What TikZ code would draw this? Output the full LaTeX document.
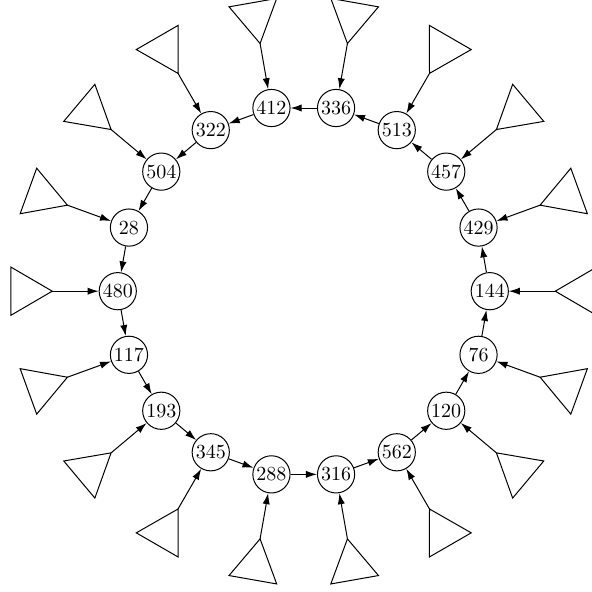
\documentclass[tikz,border=0pt]{standalone}
\usetikzlibrary{arrows.meta,calc}
\begin{document}
\begin{tikzpicture}[x=0.5pt,y=0.5pt,line width=0.5pt,
  vnode/.style={circle,draw,minimum size=18.6pt,inner sep=0pt},
  arr/.style={-{Latex[length=5.5pt,width=3.6pt]}},
  tri/.style={draw,line join=miter}]
\useasboundingbox (0,0) rectangle (592,592);
\clip (0,0) rectangle (592,592);
\coordinate (C) at (303.75,300.8);
\foreach \a/\l in {0/144,20/429,40/457,60/513,80/336,100/412,120/322,140/504,160/28,180/480,200/117,220/193,240/345,260/288,280/316,300/562,320/120,340/76}{
  \node[vnode] (n\a) at ($(C)+(\a:186)$) {\l};
  \begin{scope}[shift={(C)},rotate=\a]
    \draw[tri] (251.5,0) -- (293,24.2) -- (293,-24.2) -- cycle;
    \coordinate (t\a) at (251.5,0);
  \end{scope}
  \draw[arr] (t\a) -- (n\a);
}
\foreach \a in {0,20,...,340}{
  \pgfmathtruncatemacro{\b}{mod(\a+20,360)}
  \draw[arr] (n\a) -- (n\b);
}
\end{tikzpicture}
\end{document}
